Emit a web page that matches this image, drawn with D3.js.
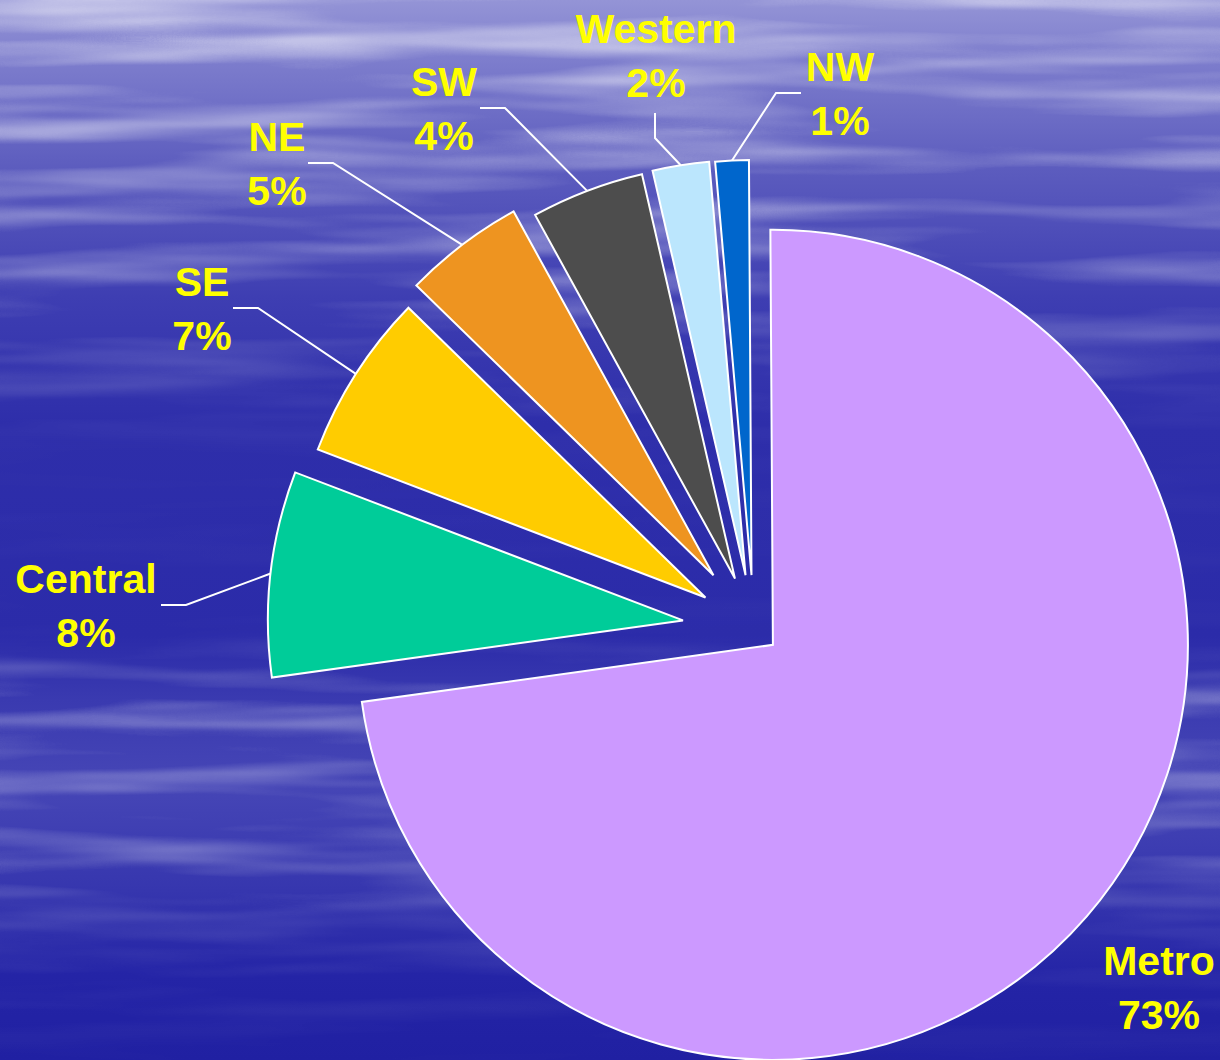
<!DOCTYPE html>
<html>
<head>
<meta charset="utf-8">
<script src="https://cdn.jsdelivr.net/npm/d3@7"></script>
<style>
  html, body { margin: 0; padding: 0; background: #2a2aa8; }
  svg { display: block; }
</style>
</head>
<body>
<div id="chart"></div>
<script>
// ---- data ----
const regions = ["Metro", "Central", "SE", "NE", "SW", "Western", "NW"];
const shares  = [72.9, 8.0, 6.5, 4.7, 4.4, 2.2, 1.3];
const sliceColors = ["#CC99FF", "#00CC99", "#FFCC00", "#EE9420", "#4D4D4D", "#BBE6FD", "#0066CC"];

// ---- layout / style config ----
const W = 1220, H = 1060;
const center = [754, 628.5];
const radius = 415;
const startDeg = -0.35;
const explode = [25, 71.5, 57.6, 67, 53.4, 54, 53.5];   // px offset of each slice along its mid angle
// label block: centre x, vertical middle of the two-line block, leader end & direction
const labelLayout = [
  { cx: 1159, my: 987, leader: null },
  { cx: 86,  my: 605, leader: { end: [161, 605], dir: [1, 0] } },
  { cx: 202, my: 308, leader: { end: [233, 308], dir: [1, 0] } },
  { cx: 277, my: 163, leader: { end: [308, 163], dir: [1, 0] } },
  { cx: 444, my: 108, leader: { end: [480, 108], dir: [1, 0] } },
  { cx: 656, my: 55,  leader: { end: [655, 113], dir: [0, 1] } },
  { cx: 840, my: 93,  leader: { end: [801, 93],  dir: [-1, 0] } }
];
const fontSize = 41, lineGap = 54, elbowLen = 25;

const svg = d3.select("#chart").append("svg")
  .attr("width", W).attr("height", H)
  .attr("viewBox", `0 0 ${W} ${H}`);

// ---- background (water texture) ----
const defs = svg.append("defs");
const bg = defs.append("linearGradient").attr("id", "bgGrad")
  .attr("x1", 0).attr("y1", 0).attr("x2", 0).attr("y2", 1);
[[0, "#9494d6"], [0.06, "#7c7ccc"], [0.16, "#5c5cbe"], [0.28, "#3e3eb2"], [0.4, "#2e2eaa"],
 [0.6, "#2b2ba9"], [0.66, "#3a3ab0"], [0.74, "#4646b6"], [0.84, "#3636ae"], [0.92, "#2424a6"], [1, "#2020a2"]]
  .forEach(([o, c]) => bg.append("stop").attr("offset", o).attr("stop-color", c));

const filt = defs.append("filter").attr("id", "streaks")
  .attr("filterUnits", "userSpaceOnUse")
  .attr("x", 0).attr("y", 0).attr("width", W).attr("height", H);
filt.append("feTurbulence").attr("type", "fractalNoise")
  .attr("baseFrequency", "0.0025 0.035").attr("numOctaves", 3).attr("seed", 11);
filt.append("feGaussianBlur").attr("stdDeviation", "8 1.5");
filt.append("feColorMatrix").attr("type", "matrix")
  .attr("values", "0 0 0 0 1  0 0 0 0 1  0 0 0 0 1  2.6 0 0 0 -1.1");

const mg = defs.append("linearGradient").attr("id", "maskGrad")
  .attr("x1", 0).attr("y1", 0).attr("x2", 0).attr("y2", 1);
[[0, 0.9], [0.12, 0.7], [0.25, 0.5], [0.35, 0.25], [0.42, 0.03], [0.6, 0.03], [0.66, 0.6], [0.8, 0.55], [0.88, 0.2], [1, 0.02]]
  .forEach(([o, a]) => mg.append("stop").attr("offset", o).attr("stop-color", "#fff").attr("stop-opacity", a));
defs.append("mask").attr("id", "streakMask")
  .attr("maskUnits", "userSpaceOnUse").attr("x", 0).attr("y", 0).attr("width", W).attr("height", H)
  .append("rect").attr("width", W).attr("height", H).attr("fill", "url(#maskGrad)");

svg.append("rect").attr("width", W).attr("height", H).attr("fill", "url(#bgGrad)");
svg.append("rect").attr("width", W).attr("height", H)
  .attr("filter", "url(#streaks)").attr("mask", "url(#streakMask)").attr("opacity", 0.6);

// ---- pie ----
const a0 = startDeg * Math.PI / 180;
const pie = d3.pie().sort(null).value(d => d.value).startAngle(a0).endAngle(a0 + 2 * Math.PI);
const data = regions.map((r, i) => ({ name: r, value: shares[i], color: sliceColors[i] }));
const arcs = pie(data);
const arc = d3.arc().innerRadius(0).outerRadius(radius);

const unit = a => [Math.sin(a), -Math.cos(a)];

const g = svg.append("g").attr("transform", `translate(${center[0]},${center[1]})`);

g.selectAll("path.slice").data(arcs).join("path")
  .attr("class", "slice")
  .attr("d", arc)
  .attr("transform", d => {
    const m = (d.startAngle + d.endAngle) / 2;
    const u = unit(m), e = explode[d.index];
    return `translate(${u[0] * e},${u[1] * e})`;
  })
  .attr("fill", d => d.data.color)
  .attr("stroke", "#ffffff")
  .attr("stroke-width", 2)
  .attr("stroke-linejoin", "miter");

// ---- leader lines ----
arcs.forEach(d => {
  const L = labelLayout[d.index].leader;
  if (!L) return;
  const m = (d.startAngle + d.endAngle) / 2;
  const u = unit(m), e = explode[d.index] + radius;
  const p0 = [center[0] + u[0] * e, center[1] + u[1] * e];
  const elbow = [L.end[0] + L.dir[0] * elbowLen, L.end[1] + L.dir[1] * elbowLen];
  svg.append("path")
    .attr("d", d3.line()([p0, elbow, L.end]))
    .attr("fill", "none").attr("stroke", "#ffffff").attr("stroke-width", 2);
});

// ---- labels ----
const labels = svg.append("g")
  .attr("font-family", "'Liberation Sans', Arial, sans-serif")
  .attr("font-weight", "bold")
  .attr("font-size", fontSize)
  .attr("fill", "#FFFF00")
  .attr("text-anchor", "middle");

arcs.forEach(d => {
  const lay = labelLayout[d.index];
  const b1 = lay.my - 12;
  labels.append("text").attr("x", lay.cx).attr("y", b1).text(d.data.name);
  labels.append("text").attr("x", lay.cx).attr("y", b1 + lineGap)
    .text(Math.round(d.data.value) + "%");
});
</script>
</body>
</html>
